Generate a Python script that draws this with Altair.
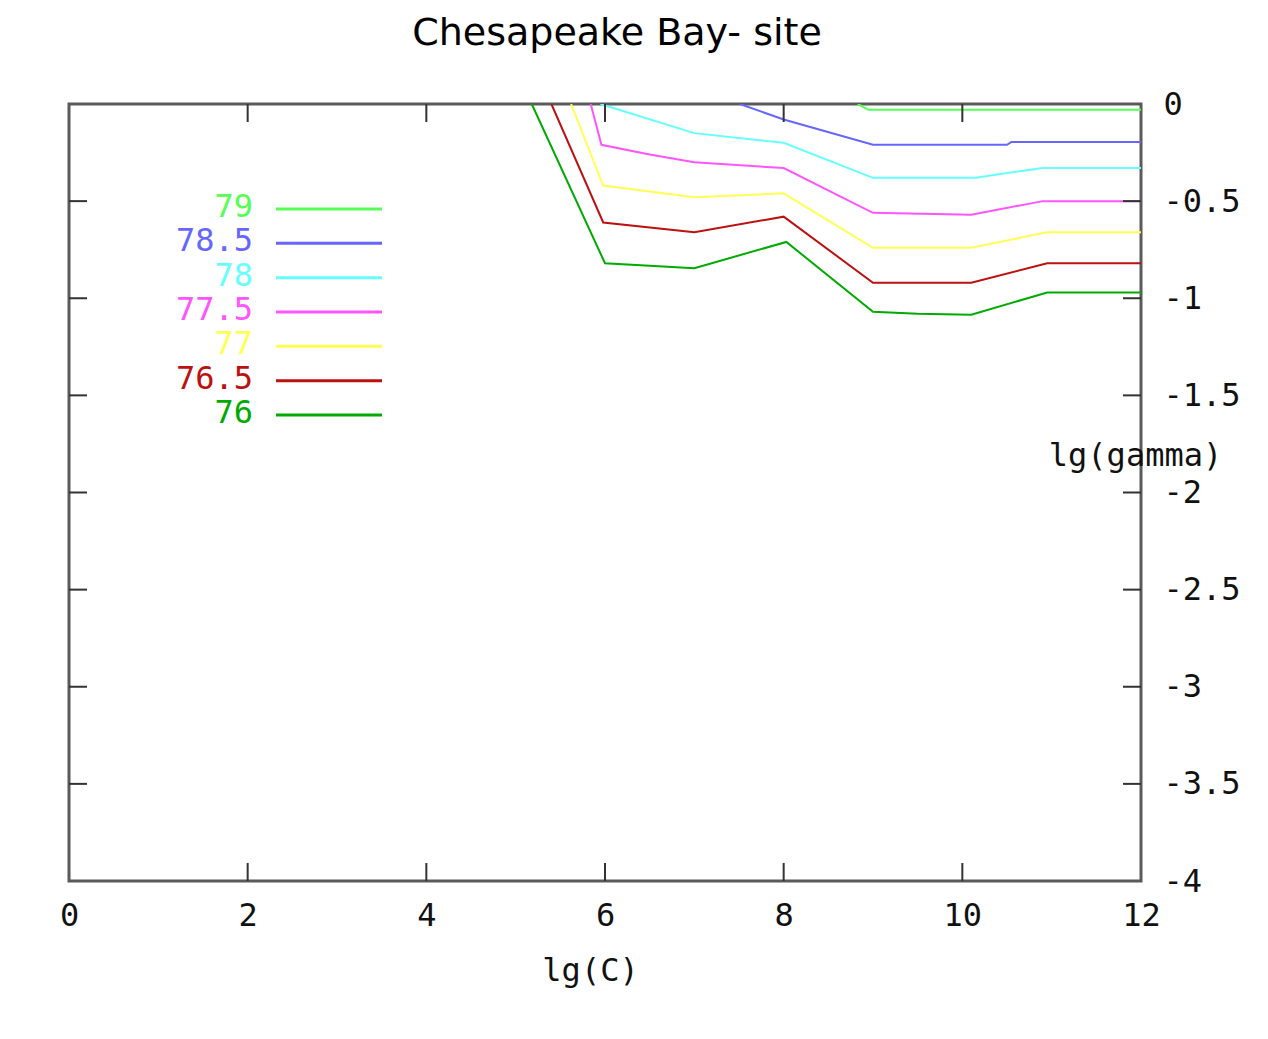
import altair as alt
import pandas as pd

# ---- data ----
levels = ["79", "78.5", "78", "77.5", "77", "76.5", "76"]
colors = ["#55ff55", "#6666ff", "#66ffff", "#ff55ff", "#ffff55", "#bb1111", "#00aa00"]

x_79 = [8.83, 8.95, 12.0]
y_79 = [0.0, -0.03, -0.03]
x_785 = [7.51, 8.0, 9.0, 10.5, 10.55, 12.0]
y_785 = [0.0, -0.08, -0.21, -0.21, -0.195, -0.195]
x_78 = [5.95, 6.3, 7.0, 8.0, 9.0, 10.15, 10.5, 10.9, 12.0]
y_78 = [0.0, -0.05, -0.15, -0.2, -0.38, -0.38, -0.355, -0.33, -0.33]
x_775 = [5.84, 5.96, 6.5, 7.0, 8.0, 9.0, 10.1, 10.9, 12.0]
y_775 = [0.0, -0.21, -0.26, -0.30, -0.33, -0.56, -0.57, -0.50, -0.50]
x_77 = [5.62, 5.98, 7.0, 8.0, 9.0, 10.1, 10.95, 12.0]
y_77 = [0.0, -0.42, -0.48, -0.46, -0.74, -0.74, -0.66, -0.66]
x_765 = [5.40, 5.98, 7.0, 8.0, 9.0, 10.1, 10.95, 12.0]
y_765 = [0.0, -0.61, -0.66, -0.58, -0.92, -0.92, -0.82, -0.82]
x_76 = [5.18, 6.0, 7.0, 8.03, 9.0, 9.5, 10.1, 10.95, 12.0]
y_76 = [0.0, -0.82, -0.845, -0.71, -1.07, -1.08, -1.085, -0.97, -0.97]

x_labels = [0, 2, 4, 6, 8, 10, 12]
x_inner_ticks = [2, 4, 6, 8, 10]
y_labels = [0, -0.5, -1, -1.5, -2, -2.5, -3, -3.5, -4]
y_inner_ticks = [-0.5, -1, -1.5, -2, -2.5, -3, -3.5]

title_text = "Chesapeake Bay- site"
x_title = "lg(C)"
y_title = "lg(gamma)"

# ---- build tables ----
series_x = [x_79, x_785, x_78, x_775, x_77, x_765, x_76]
series_y = [y_79, y_785, y_78, y_775, y_77, y_765, y_76]
rows = []
for lev, xs, ys in zip(levels, series_x, series_y):
    for i, (a, b) in enumerate(zip(xs, ys)):
        rows.append({"level": lev, "x": a, "y": b, "order": i})
df = pd.DataFrame(rows)
xt_df = pd.DataFrame({"t": x_inner_ticks})
yt_df = pd.DataFrame({"t": y_inner_ticks})
leg_df = pd.DataFrame({"level": levels, "color": colors})

mono = "DejaVu Sans Mono"
W, H = 1072, 777
TICK = 18

xscale = alt.Scale(domain=[0, 12], nice=False, zero=False)
yscale = alt.Scale(domain=[-4, 0], nice=False, zero=False)

x_axis = alt.Axis(
    values=x_labels, ticks=False, tickSize=0, domain=False, grid=False,
    labelFont=mono, labelFontSize=32, labelPadding=34, labelBaseline="middle",
    labelColor="#111111", labelFlush=False, labelOverlap=False, labelBound=False,
    title=x_title, titleFont=mono, titleFontSize=32, titleFontWeight="normal",
    titleColor="#111111", titleX=521, titleY=89, titleAlign="center",
    titleBaseline="middle")

y_axis = alt.Axis(
    orient="right", values=y_labels, ticks=False, tickSize=0, domain=False, grid=False,
    labelFont=mono, labelFontSize=32, labelPadding=22, labelAlign="left",
    labelBaseline="middle", labelColor="#111111", labelFlush=False,
    labelOverlap=False, labelBound=False, labelExpr="toString(datum.value)",
    title=y_title, titleFont=mono, titleFontSize=32, titleFontWeight="normal",
    titleColor="#111111", titleAngle=0, titleX=-6, titleY=351,
    titleAlign="center", titleBaseline="middle")

lines = alt.Chart(df).mark_line(strokeWidth=2, clip=True).encode(
    x=alt.X("x:Q", scale=xscale, axis=x_axis),
    y=alt.Y("y:Q", scale=yscale, axis=y_axis),
    color=alt.Color("level:N", scale=alt.Scale(domain=levels, range=colors), legend=None),
    detail="level:N",
    order="order:Q",
)

tick_style = dict(color="#333333", strokeWidth=2)
bottom_ticks = alt.Chart(xt_df).mark_rule(**tick_style).encode(
    x=alt.X("t:Q", scale=xscale, axis=x_axis), y=alt.value(H), y2=alt.value(H - TICK))
top_ticks = alt.Chart(xt_df).mark_rule(**tick_style).encode(
    x=alt.X("t:Q", scale=xscale, axis=x_axis), y=alt.value(0), y2=alt.value(TICK))
left_ticks = alt.Chart(yt_df).mark_rule(**tick_style).encode(
    y=alt.Y("t:Q", scale=yscale, axis=None), x=alt.value(0), x2=alt.value(TICK))
right_ticks = alt.Chart(yt_df).mark_rule(**tick_style).encode(
    y=alt.Y("t:Q", scale=yscale, axis=None), x=alt.value(W - TICK), x2=alt.value(W))

leg_y = alt.Y("level:N", scale=alt.Scale(type="point", domain=levels, range=[105, 311], padding=0),
              axis=None)
leg_rule = alt.Chart(leg_df).mark_rule(strokeWidth=3).encode(
    x=alt.value(207), x2=alt.value(313), y=leg_y,
    color=alt.Color("color:N", scale=None))
leg_text = alt.Chart(leg_df).mark_text(align="right", baseline="middle", font=mono,
                                       fontSize=32, dy=-2).encode(
    x=alt.value(184), y=leg_y, text="level:N",
    color=alt.Color("color:N", scale=None))

chart = alt.layer(
    lines, bottom_ticks, top_ticks, left_ticks, right_ticks, leg_rule, leg_text
).resolve_scale(
    y="independent", color="independent"
).properties(
    width=W, height=H,
    padding={"left": 61, "top": 96, "right": 115, "bottom": 140},
    autosize=alt.AutoSizeParams(type="none"),
    background="white",
    title=alt.TitleParams(title_text, font="DejaVu Sans", fontSize=38, fontWeight="normal",
                          color="black", anchor="middle", frame="group",
                          baseline="alphabetic", offset=5, dx=12),
).configure_view(stroke="#5a5a5a", strokeWidth=3)

chart.save("out.html", embed_options={"renderer": "svg", "actions": False})
